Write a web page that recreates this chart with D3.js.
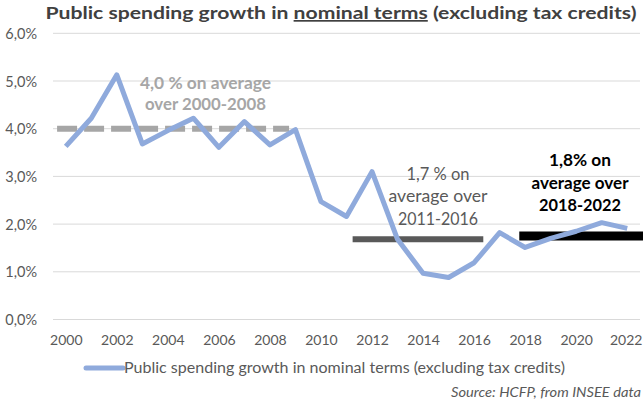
<!DOCTYPE html>
<html>
<head>
<meta charset="utf-8">
<script src="https://cdn.jsdelivr.net/npm/d3@7"></script>
<style>
  html, body { margin: 0; padding: 0; background: #fff; }
  svg { display: block; }
</style>
</head>
<body>
<svg id="chart" width="643" height="403"></svg>
<script>
// ---- data ----
const years = [2000,2001,2002,2003,2004,2005,2006,2007,2008,2009,2010,2011,2012,2013,2014,2015,2016,2017,2018,2019,2020,2021,2022];
const growth = [3.63,4.22,5.13,3.68,3.96,4.22,3.61,4.15,3.66,3.98,2.47,2.16,3.10,1.68,0.97,0.88,1.19,1.82,1.51,1.70,1.85,2.03,1.91];
const yTicks = [0,1,2,3,4,5,6];
const xTicks = [2000,2002,2004,2006,2008,2010,2012,2014,2016,2018,2020,2022];
const avgLabels = ["4,0 % on average over 2000-2008", "1,7 % on average over 2011-2016", "1,8% on average over 2018-2022"];
const avgValues = [4.0, 1.68, 1.75];
const avgFrom = [1999.66, 2011.24, 2017.77];
const avgTo = [2008.75, 2016.36, 2022.62];
const seriesName = "Public spending growth in nominal terms (excluding tax credits)";
const sourceText = "Source: HCFP, from INSEE data";

const svg = d3.select("#chart");
const FONT = "Lato, 'Open Sans', sans-serif";

const x = d3.scaleLinear().domain([1999.5, 2022.5]).range([53, 640]);
const y = d3.scaleLinear().domain([0, 6]).range([319.5, 33.3]);

// gridlines
svg.append("g").selectAll("line").data(yTicks).join("line")
  .attr("x1", 53).attr("x2", 640)
  .attr("y1", d => y(d)).attr("y2", d => y(d))
  .attr("stroke", "#d9d9d9").attr("stroke-width", 1);

// y axis labels
const yAxis = d3.axisLeft(y).tickValues(yTicks).tickSize(0).tickPadding(0)
  .tickFormat(d => d3.format(".1f")(d).replace(".", ",") + "%");
const gy = svg.append("g").attr("transform", "translate(37,0)").call(yAxis);
gy.select(".domain").remove();
gy.selectAll("text").attr("font-family", FONT).attr("font-size", 14.5).attr("fill", "#595959").attr("dy", "0.35em");

// x axis labels
const xAxis = d3.axisBottom(x).tickValues(xTicks).tickSize(0).tickPadding(0).tickFormat(d3.format("d"));
const gx = svg.append("g").attr("transform", "translate(0,334)").call(xAxis);
gx.select(".domain").remove();
gx.selectAll("text").attr("font-family", FONT).attr("font-size", 14).attr("fill", "#595959").attr("dy", "0.75em")
  .attr("x", (d, i, n) => i === n.length - 1 ? -1.5 : 0);

// average bars
const avgStyles = [
  {stroke: "#a6a6a6", width: 6, dash: "20,7"},
  {stroke: "#595959", width: 6, dash: null},
  {stroke: "#000000", width: 9, dash: null}
];
avgValues.forEach((v, i) => {
  svg.append("line")
    .attr("x1", x(avgFrom[i])).attr("x2", x(avgTo[i]))
    .attr("y1", y(v)).attr("y2", y(v))
    .attr("stroke", avgStyles[i].stroke)
    .attr("stroke-width", avgStyles[i].width)
    .attr("stroke-dasharray", avgStyles[i].dash);
});

// series line
const line = d3.line().x((d, i) => x(years[i])).y(d => y(d));
svg.append("path").datum(growth)
  .attr("d", line)
  .attr("fill", "none")
  .attr("stroke", "#8faadc")
  .attr("stroke-width", 5)
  .attr("stroke-linejoin", "round")
  .attr("stroke-linecap", "butt");

// annotations
const annos = [
  {lines: ["4,0 % on average", "over 2000-2008"], cx: 205.5, y0: 88.5, lh: 21.5, fill: "#a6a6a6", weight: "bold", widths: [131, 121]},
  {lines: ["1,7 % on", "average over", "2011-2016"], cx: 438, y0: 179.5, lh: 22.5, fill: "#595959", weight: "normal", widths: [63, 99, 80]},
  {lines: ["1,8% on", "average over", "2018-2022"], cx: 580, y0: 166, lh: 22.5, fill: "#000000", weight: "bold", widths: [62, 97, 82]}
];
annos.forEach(a => {
  const t = svg.append("g");
  a.lines.forEach((l, j) => {
    t.append("text")
      .attr("x", a.cx).attr("y", a.y0 + j * a.lh)
      .attr("text-anchor", "middle")
      .attr("font-family", FONT).attr("font-size", 17)
      .attr("font-weight", a.weight).attr("fill", a.fill)
      .attr("textLength", a.widths[j]).attr("lengthAdjust", "spacingAndGlyphs")
      .text(l);
  });
});

// title
const title = svg.append("text")
  .attr("x", 341).attr("y", 19)
  .attr("text-anchor", "middle")
  .attr("font-family", FONT).attr("font-size", 17).attr("font-weight", "bold")
  .attr("fill", "#404040")
  .attr("textLength", 591).attr("lengthAdjust", "spacingAndGlyphs");
title.append("tspan").text("Public spending growth in ");
title.append("tspan").attr("text-decoration", "underline").style("text-decoration", "underline").text("nominal terms");
title.append("tspan").text(" (excluding tax credits)");

// legend
svg.append("line").attr("x1", 86).attr("x2", 123).attr("y1", 368).attr("y2", 368)
  .attr("stroke", "#8faadc").attr("stroke-width", 5).attr("stroke-linecap", "round");
svg.append("text").attr("x", 124).attr("y", 373)
  .attr("font-family", FONT).attr("font-size", 14.5).attr("fill", "#595959")
  .attr("textLength", 441).attr("lengthAdjust", "spacingAndGlyphs")
  .text(seriesName);

// source
svg.append("text").attr("x", 641).attr("y", 397)
  .attr("text-anchor", "end")
  .attr("font-family", FONT).attr("font-size", 13.5).attr("font-style", "italic").attr("fill", "#595959")
  .attr("textLength", 190).attr("lengthAdjust", "spacingAndGlyphs")
  .text(sourceText);
</script>
</body>
</html>
